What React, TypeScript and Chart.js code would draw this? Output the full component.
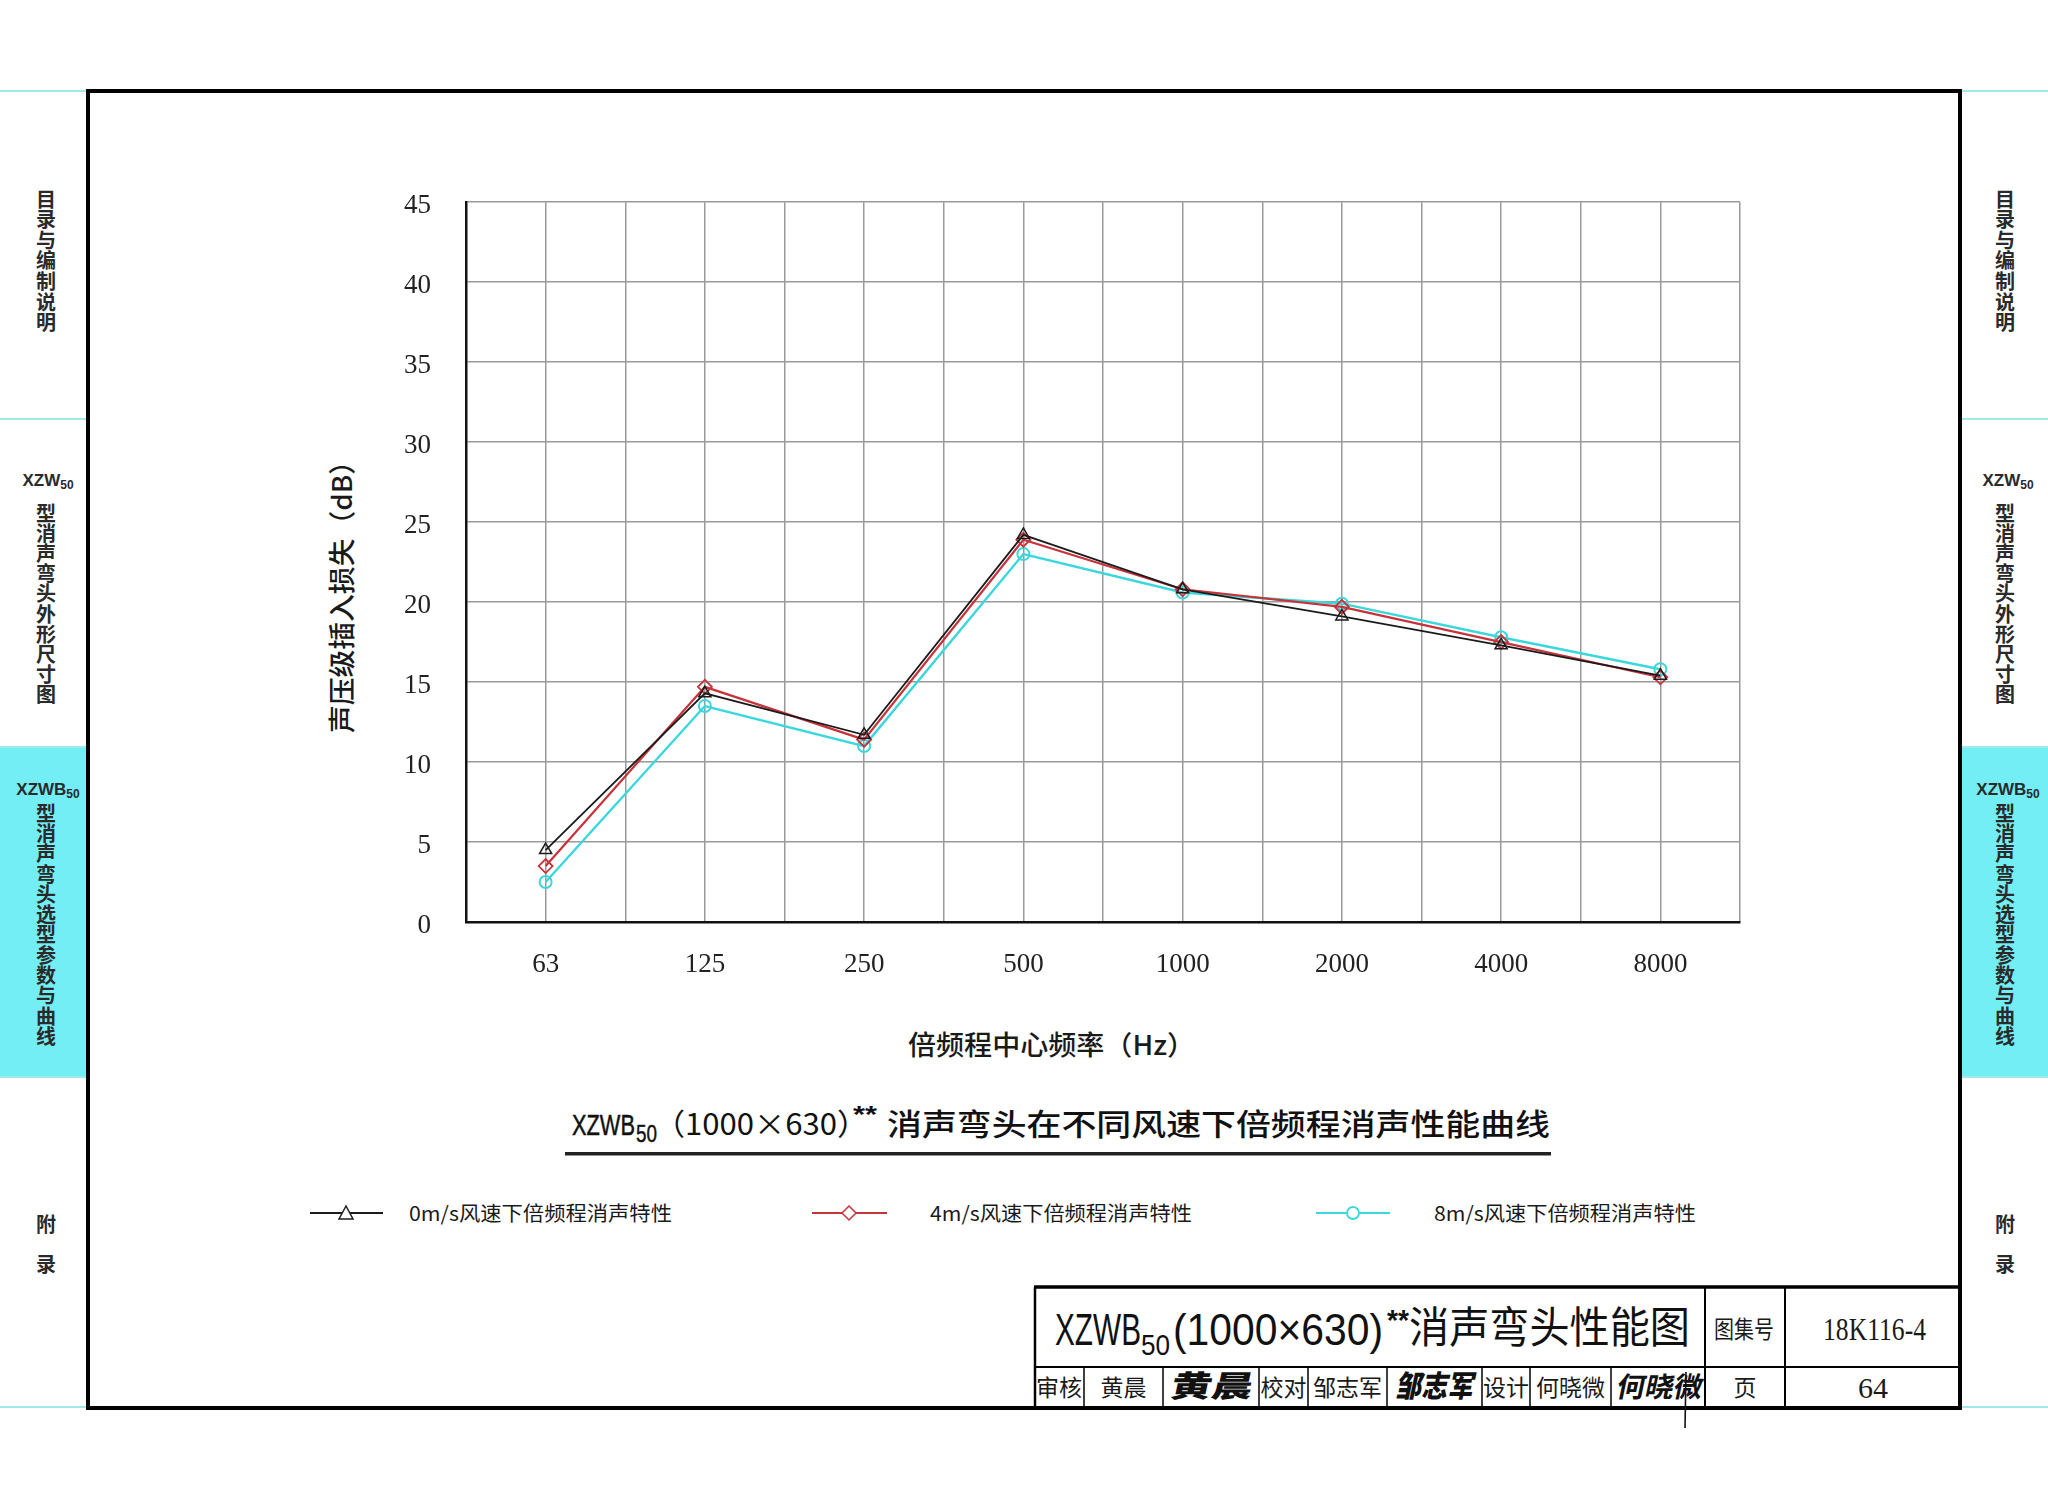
import React, { useEffect, useRef } from "react";
import { Chart, registerables } from "chart.js";

Chart.register(...registerables);

// ---------- data ----------
const categories = ["63", "125", "250", "500", "1000", "2000", "4000", "8000"];
const series0ms = [4.5, 14.3, 11.7, 24.2, 20.8, 19.1, 17.3, 15.4];
const series4ms = [3.5, 14.7, 11.4, 23.9, 20.8, 19.7, 17.5, 15.3];
const series8ms = [2.5, 13.5, 11.0, 23.0, 20.6, 19.9, 17.8, 15.8];
const yTickValues = [0, 5, 10, 15, 20, 25, 30, 35, 40, 45];
const seriesNames = [
  "0m/s风速下倍频程消声特性",
  "4m/s风速下倍频程消声特性",
  "8m/s风速下倍频程消声特性",
];
const yAxisTitle = "声压级插入损失（dB）";
const xAxisTitle = "倍频程中心频率（Hz）";

const CJK = "'Noto Sans CJK SC', 'Noto Sans', sans-serif";
const SANS = "'Liberation Sans', Arial, sans-serif";
const SERIF = "'Liberation Serif', 'Times New Roman', serif";

const BLACK = "#1c1c1c";
const RED = "#c8323a";
const CYAN = "#3ad8dc";
const TAB = "#72eef4";
const TABLINE = "#9fe8ec";

function ChartCanvas() {
  const ref = useRef<HTMLCanvasElement | null>(null);
  useEffect(() => {
    if (!ref.current) return;
    const toPts = (arr: number[]) => arr.map((v, i) => ({ x: i, y: v }));
    const xGrid: number[] = [];
    for (let i = 0; i <= categories.length * 2; i++) xGrid.push(-0.5 + i * 0.5);
    const chart = new Chart(ref.current, {
      type: "line",
      data: {
        datasets: [
          {
            label: seriesNames[0],
            data: toPts(series0ms),
            borderColor: BLACK,
            borderWidth: 1.8,
            pointStyle: "triangle",
            pointRadius: 7,
            pointBorderWidth: 1.5,
            pointBorderColor: BLACK,
            pointBackgroundColor: "rgba(255,255,255,0)",
            tension: 0,
          },
          {
            label: seriesNames[1],
            data: toPts(series4ms),
            borderColor: RED,
            borderWidth: 2.2,
            pointStyle: "rectRot",
            pointRadius: 7,
            pointBorderWidth: 1.8,
            pointBorderColor: RED,
            pointBackgroundColor: "rgba(255,255,255,0)",
            tension: 0,
          },
          {
            label: seriesNames[2],
            data: toPts(series8ms),
            borderColor: CYAN,
            borderWidth: 2.4,
            pointStyle: "circle",
            pointRadius: 6,
            pointBorderWidth: 2,
            pointBorderColor: CYAN,
            pointBackgroundColor: "rgba(255,255,255,0)",
            tension: 0,
          },
        ],
      },
      options: {
        animation: false,
        responsive: false,
        plugins: { legend: { display: false }, tooltip: { enabled: false } },
        layout: { padding: { left: 0, top: 22, right: 40, bottom: 0 } },
        scales: {
          x: {
            type: "linear",
            min: -0.5,
            max: 7.5,
            afterBuildTicks: (ax: any) => {
              ax.ticks = xGrid.map((v) => ({ value: v }));
            },
            afterFit: (s: any) => {
              s.height = 88;
            },
            grid: { color: "#9a9a9a", lineWidth: 1.5, drawTicks: false },
            border: { color: "#111", width: 2.5 },
            ticks: {
              autoSkip: false,
              maxRotation: 0,
              padding: 27,
              color: "#222",
              font: { family: SERIF, size: 27 },
              callback: (v: any) => {
                const n = Number(v);
                return Number.isInteger(n) ? categories[n] : "";
              },
            },
          },
          y: {
            type: "linear",
            min: 0,
            max: 45,
            afterBuildTicks: (ax: any) => {
              ax.ticks = yTickValues.map((v) => ({ value: v }));
            },
            afterFit: (s: any) => {
              s.width = 166;
            },
            grid: { color: "#9a9a9a", lineWidth: 1.5, drawTicks: false },
            border: { color: "#111", width: 2.5 },
            ticks: {
              padding: 35,
              labelOffset: 4,
              color: "#222",
              font: { family: SERIF, size: 27 },
            },
          },
        },
      },
    });
    return () => chart.destroy();
  }, []);
  return (
    <canvas
      ref={ref}
      width={1480}
      height={859}
      style={{ position: "absolute", left: 300, top: 151, width: 1480, height: 859 }}
    />
  );
}

function VCol({ x, start, step, text, size = 20 }: { x: number; start: number; step: number; text: string; size?: number }) {
  return (
    <g>
      {Array.from(text).map((ch, i) => (
        <text
          key={i}
          x={x}
          y={start + i * step + size * 0.38}
          fontSize={size}
          fontFamily={CJK}
          fontWeight={700}
          textAnchor="middle"
          fill="#2a2a2a"
        >
          {ch}
        </text>
      ))}
    </g>
  );
}

function SideTab({ cx, latinCx }: { cx: number; latinCx: number }) {
  return (
    <g>
      <VCol x={cx} start={199} step={20.6} text="目录与编制说明" />
      <text x={latinCx} y={486} fontSize={17} fontFamily={SANS} fontWeight={700} textAnchor="middle" fill="#2a2a2a">
        XZW<tspan fontSize={12} dy={3}>50</tspan>
      </text>
      <VCol x={cx} start={513} step={20.2} text="型消声弯头外形尺寸图" />
      <text x={latinCx} y={795} fontSize={17} fontFamily={SANS} fontWeight={700} textAnchor="middle" fill="#2a2a2a">
        XZWB<tspan fontSize={12} dy={3}>50</tspan>
      </text>
      <VCol x={cx} start={813} step={20.3} text="型消声弯头选型参数与曲线" />
      <VCol x={cx} start={1224} step={40} text="附录" />
    </g>
  );
}

function Overlay() {
  const cellText = (x: number, w: number, t: string, size = 23, fam = CJK) => (
    <text x={x + w / 2} y={1396} fontSize={size} fontFamily={fam} textAnchor="middle" fill="#1a1a1a">
      {t}
    </text>
  );
  return (
    <svg width={2048} height={1497} style={{ position: "absolute", left: 0, top: 0 }}>
      <rect x={0} y={0} width={2048} height={1497} fill="#fff" />
      {/* side tabs */}
      <rect x={0} y={747} width={86} height={330} fill={TAB} />
      <rect x={1962} y={747} width={86} height={330} fill={TAB} />
      {[91, 419, 747, 1077, 1407].map((y) => (
        <g key={y}>
          <line x1={0} x2={86} y1={y} y2={y} stroke={TABLINE} strokeWidth={2} />
          <line x1={1962} x2={2048} y1={y} y2={y} stroke={TABLINE} strokeWidth={2} />
        </g>
      ))}
      <SideTab cx={46} latinCx={48} />
      <SideTab cx={2005} latinCx={2008} />

      {/* frame */}
      <rect x={88} y={91} width={1872} height={1317} fill="none" stroke="#000" strokeWidth={4} />

      {/* axis titles */}
      <text
        transform="translate(352,733) rotate(-90)"
        x={0}
        y={0}
        fontSize={27}
        fontFamily={CJK}
        fontWeight={500}
        fill="#1a1a1a"
        textLength={286}
        lengthAdjust="spacingAndGlyphs"
      >
        {yAxisTitle}
      </text>
      <text x={908} y={1055} fontSize={27} fontFamily={CJK} fontWeight={500} fill="#1a1a1a" textLength={287} lengthAdjust="spacingAndGlyphs">
        {xAxisTitle}
      </text>

      {/* chart title */}
      <text x={572} y={1135} fontSize={30} fontFamily={SANS} fill="#111" stroke="#111" strokeWidth={0.5} textLength={63} lengthAdjust="spacingAndGlyphs">
        XZWB
      </text>
      <text x={636} y={1142} fontSize={23} fontFamily={SANS} fill="#111" stroke="#111" strokeWidth={0.4} textLength={21} lengthAdjust="spacingAndGlyphs">
        50
      </text>
      <text x={654} y={1135} fontSize={30} fontFamily={CJK} fill="#111" textLength={214} lengthAdjust="spacingAndGlyphs">
        （1000×630）
      </text>
      <text x={853} y={1123} fontSize={24} fontFamily={SANS} fontWeight={700} fill="#111" textLength={24} lengthAdjust="spacingAndGlyphs">
        **
      </text>
      <text x={887} y={1135} fontSize={30} fontFamily={CJK} fontWeight={500} fill="#111" textLength={663} lengthAdjust="spacingAndGlyphs">
        消声弯头在不同风速下倍频程消声性能曲线
      </text>
      <rect x={565} y={1152} width={986} height={3.5} fill="#222" />

      {/* legend */}
      <line x1={310} x2={383} y1={1213} y2={1213} stroke={BLACK} strokeWidth={2} />
      <polygon points="346,1206 339,1219 353,1219" fill="#fff" stroke={BLACK} strokeWidth={1.5} />
      <text x={409} y={1221} fontSize={20} fontFamily={CJK} fill="#1a1a1a" textLength={263} lengthAdjust="spacingAndGlyphs">
        {seriesNames[0]}
      </text>
      <line x1={812} x2={887} y1={1213} y2={1213} stroke={RED} strokeWidth={2} />
      <polygon points="849,1206 856,1213 849,1220 842,1213" fill="#fff" stroke={RED} strokeWidth={1.5} />
      <text x={930} y={1221} fontSize={20} fontFamily={CJK} fill="#1a1a1a" textLength={262} lengthAdjust="spacingAndGlyphs">
        {seriesNames[1]}
      </text>
      <line x1={1316} x2={1390} y1={1213} y2={1213} stroke={CYAN} strokeWidth={2} />
      <circle cx={1353} cy={1213} r={6} fill="#fff" stroke={CYAN} strokeWidth={1.8} />
      <text x={1434} y={1221} fontSize={20} fontFamily={CJK} fill="#1a1a1a" textLength={262} lengthAdjust="spacingAndGlyphs">
        {seriesNames[2]}
      </text>

      {/* title block */}
      <line x1={1034} x2={1960} y1={1287} y2={1287} stroke="#000" strokeWidth={3.5} />
      <line x1={1035} x2={1035} y1={1287} y2={1408} stroke="#000" strokeWidth={2.5} />
      <line x1={1034} x2={1960} y1={1367} y2={1367} stroke="#000" strokeWidth={2} />
      <line x1={1705} x2={1705} y1={1287} y2={1408} stroke="#000" strokeWidth={2} />
      <line x1={1785} x2={1785} y1={1287} y2={1408} stroke="#000" strokeWidth={2} />
      {[1084, 1163, 1259, 1308, 1387, 1482, 1530, 1611].map((x) => (
        <line key={x} x1={x} x2={x} y1={1367} y2={1408} stroke="#000" strokeWidth={1.5} />
      ))}
      <text x={1055} y={1345} fontSize={45} fontFamily={SANS} fill="#111" textLength={86} lengthAdjust="spacingAndGlyphs">
        XZWB
      </text>
      <text x={1141} y={1355} fontSize={30} fontFamily={SANS} fill="#111" textLength={29} lengthAdjust="spacingAndGlyphs">
        50
      </text>
      <text x={1173} y={1345} fontSize={45} fontFamily={SANS} fill="#111" textLength={210} lengthAdjust="spacingAndGlyphs">
        (1000×630)
      </text>
      <text x={1387} y={1330} fontSize={30} fontFamily={SANS} fontWeight={700} fill="#111" textLength={22} lengthAdjust="spacingAndGlyphs">
        **
      </text>
      <text x={1409} y={1343} fontSize={43} fontFamily={CJK} fill="#111" textLength={281} lengthAdjust="spacingAndGlyphs">
        消声弯头性能图
      </text>
      <text x={1714} y={1338} fontSize={24} fontFamily={CJK} fill="#1a1a1a" textLength={60} lengthAdjust="spacingAndGlyphs">
        图集号
      </text>
      <text x={1823} y={1340} fontSize={32} fontFamily={SERIF} fill="#1a1a1a" textLength={103} lengthAdjust="spacingAndGlyphs">
        18K116-4
      </text>
      {cellText(1034, 50, "审核")}
      {cellText(1084, 79, "黄晨")}
      {cellText(1259, 49, "校对")}
      {cellText(1308, 79, "邹志军")}
      {cellText(1482, 48, "设计")}
      {cellText(1530, 81, "何晓微")}
      {cellText(1705, 80, "页")}
      <text x={1873} y={1398} fontSize={30} fontFamily={SERIF} textAnchor="middle" fill="#1a1a1a">
        64
      </text>
      {/* signatures */}
      <text x={1170} y={1397} fontSize={30} fontFamily={CJK} fontWeight={900} fill="#111" textLength={82} lengthAdjust="spacingAndGlyphs" transform="skewX(-12) translate(296,0)">
        黄晨
      </text>
      <text x={1396} y={1397} fontSize={30} fontFamily={CJK} fontWeight={900} fill="#111" textLength={78} lengthAdjust="spacingAndGlyphs" transform="skewX(-12) translate(296,0)">
        邹志军
      </text>
      <text x={1616} y={1397} fontSize={28} fontFamily={CJK} fontWeight={700} fill="#111" textLength={86} lengthAdjust="spacingAndGlyphs" transform="skewX(-12) translate(296,0)">
        何晓微
      </text>
      <line x1={1686} x2={1685} y1={1372} y2={1428} stroke="#111" strokeWidth={1.6} />
    </svg>
  );
}

export default function App() {
  return (
    <div style={{ position: "absolute", left: 0, top: 0, width: 2048, height: 1497, background: "#fff", overflow: "hidden" }}>
      <Overlay />
      <ChartCanvas />
    </div>
  );
}
